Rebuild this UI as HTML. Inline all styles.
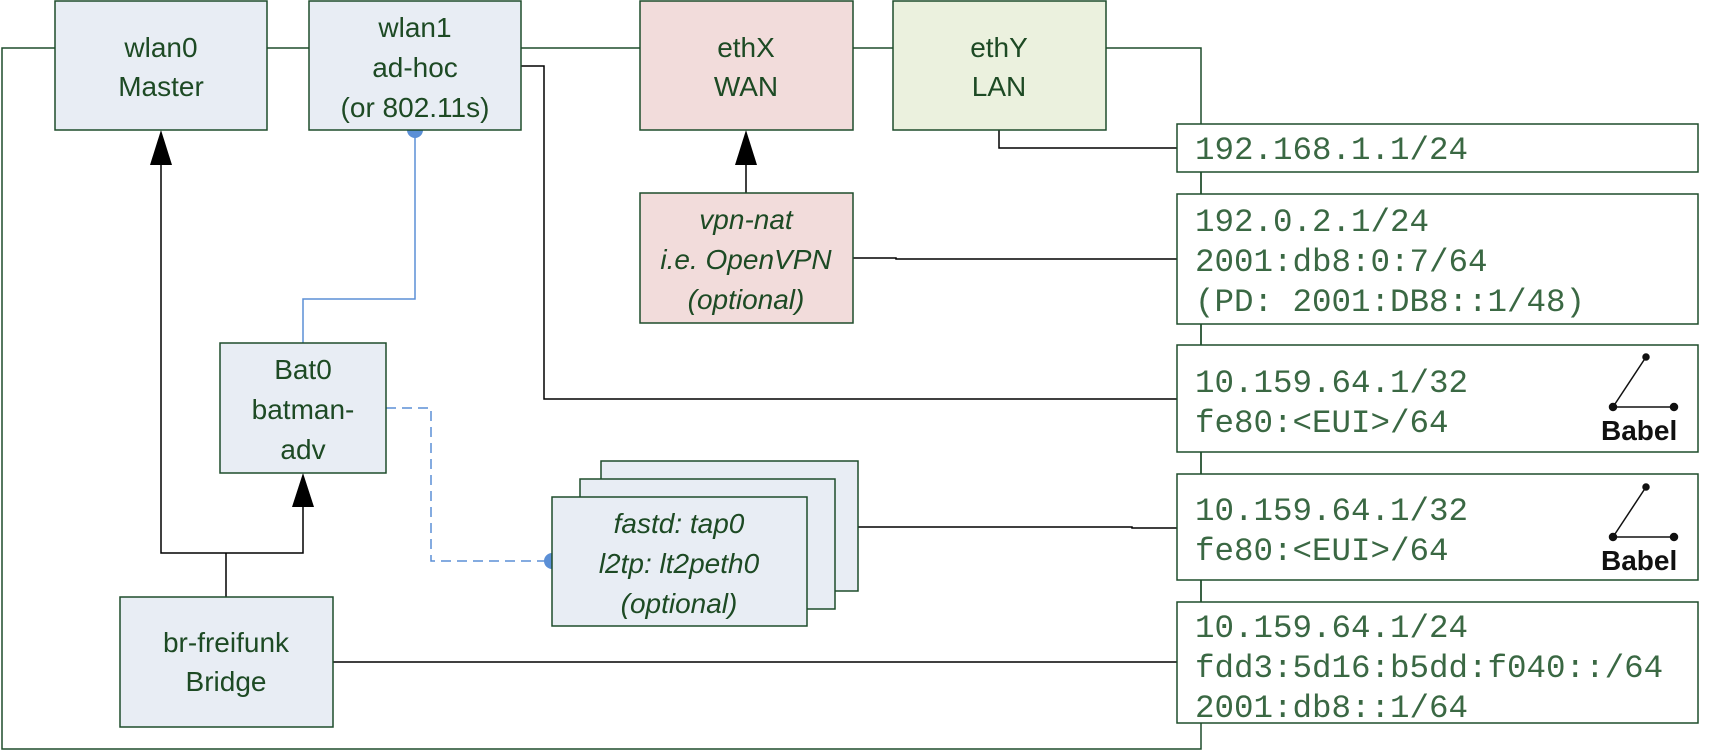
<!DOCTYPE html>
<html><head><meta charset="utf-8"><style>
html,body{margin:0;padding:0;background:#fff;}
svg{display:block;}
.n{font-family:"Liberation Sans",sans-serif;font-size:28px;fill:#1d4a24;text-anchor:middle;}
.i{font-style:italic;}
.m{font-family:"Liberation Mono",monospace;font-size:32.5px;fill:#3a6843;}
.b{font-family:"Liberation Sans",sans-serif;font-weight:bold;font-size:28px;fill:#111;}
</style></head><body>
<svg width="1710" height="751" viewBox="0 0 1710 751" xmlns="http://www.w3.org/2000/svg">
<g fill="none" stroke="#1e4d2b" stroke-width="1.5">
<polyline points="55,48 2,48 2,749 1201,749 1201,48 1106,48"/>
<line x1="267" y1="48" x2="309" y2="48"/>
<line x1="521" y1="48" x2="640" y2="48"/>
<line x1="853" y1="48" x2="893" y2="48"/>
<line x1="1201" y1="172" x2="1201" y2="194"/>
<line x1="1201" y1="324" x2="1201" y2="345"/>
<line x1="1201" y1="452" x2="1201" y2="474"/>
<line x1="1201" y1="580" x2="1201" y2="602"/>
</g>
<g fill="none" stroke="#000" stroke-width="1.5">
<polyline points="521,66 544,66 544,399 1177,399"/>
<polyline points="999,130 999,148 1177,148"/>
<polyline points="853,258 896,258 896,259 1177,259"/>
<polyline points="858,527 1132,527 1132,528 1177,528"/>
<line x1="333" y1="662" x2="1177" y2="662"/>
<polyline points="161,160 161,553 303,553 303,500"/>
<line x1="226" y1="553" x2="226" y2="597"/>
<line x1="746" y1="160" x2="746" y2="193"/>
</g>
<g fill="#000">
<polygon points="161,130 150,165 172,165"/>
<polygon points="303,473 292,507 314,507"/>
<polygon points="746,130 735,165 757,165"/>
</g>
<g fill="none" stroke="#5b8fd6" stroke-width="1.5">
<polyline points="415,130 415,299 303,299 303,343"/>
<polyline points="386,408 431,408 431,561 552,561" stroke-dasharray="10,6"/>
</g>
<circle cx="415" cy="130" r="8" fill="#5b8fd6"/>
<circle cx="552" cy="561" r="8" fill="#5b8fd6"/>
<g stroke="#1e4d2b" stroke-width="1.5">
<rect x="55" y="1" width="212" height="129" fill="#e8edf4"/>
<rect x="309" y="1" width="212" height="129" fill="#e8edf4"/>
<rect x="640" y="1" width="213" height="129" fill="#f2dcdb"/>
<rect x="893" y="1" width="213" height="129" fill="#ebf1de"/>
<rect x="640" y="193" width="213" height="130" fill="#f2dcdb"/>
<rect x="220" y="343" width="166" height="130" fill="#e8edf4"/>
<rect x="120" y="597" width="213" height="130" fill="#e8edf4"/>
<rect x="601" y="461" width="257" height="130" fill="#e8edf4"/>
<rect x="580" y="479" width="255" height="130" fill="#e8edf4"/>
<rect x="552" y="497" width="255" height="129" fill="#e8edf4"/>
<rect x="1177" y="124" width="521" height="48" fill="#fff"/>
<rect x="1177" y="194" width="521" height="130" fill="#fff"/>
<rect x="1177" y="345" width="521" height="107" fill="#fff"/>
<rect x="1177" y="474" width="521" height="106" fill="#fff"/>
<rect x="1177" y="602" width="521" height="121" fill="#fff"/>
</g>
<g class="n">
<text x="161" y="57">wlan0</text><text x="161" y="96">Master</text>
<text x="415" y="37">wlan1</text><text x="415" y="77">ad-hoc</text><text x="415" y="117">(or 802.11s)</text>
<text x="746" y="57">ethX</text><text x="746" y="96">WAN</text>
<text x="999" y="57">ethY</text><text x="999" y="96">LAN</text>
<g class="i"><text x="746" y="229">vpn-nat</text><text x="746" y="269">i.e. OpenVPN</text><text x="746" y="309">(optional)</text></g>
<text x="303" y="379">Bat0</text><text x="303" y="419">batman-</text><text x="303" y="459">adv</text>
<text x="226" y="652">br-freifunk</text><text x="226" y="691">Bridge</text>
<g class="i"><text x="679" y="533">fastd: tap0</text><text x="679" y="573">l2tp: lt2peth0</text><text x="679" y="613">(optional)</text></g>
</g>
<g class="m">
<text x="1195" y="159">192.168.1.1/24</text>
<text x="1195" y="231">192.0.2.1/24</text>
<text x="1195" y="271">2001:db8:0:7/64</text>
<text x="1195" y="311">(PD: 2001:DB8::1/48)</text>
<text x="1195" y="392">10.159.64.1/32</text>
<text x="1195" y="432">fe80:&lt;EUI&gt;/64</text>
<text x="1195" y="520">10.159.64.1/32</text>
<text x="1195" y="560">fe80:&lt;EUI&gt;/64</text>
<text x="1195" y="637">10.159.64.1/24</text>
<text x="1195" y="677">fdd3:5d16:b5dd:f040::/64</text>
<text x="1195" y="717">2001:db8::1/64</text>
</g>
<g stroke="#111" stroke-width="1.5" fill="#111">
<line x1="1646" y1="357" x2="1613" y2="407"/><line x1="1613" y1="407" x2="1674" y2="407"/>
<circle cx="1646" cy="357" r="3"/><circle cx="1613" cy="407" r="3.5"/><circle cx="1674" cy="407" r="3.5"/>
<line x1="1646" y1="487" x2="1613" y2="537"/><line x1="1613" y1="537" x2="1674" y2="537"/>
<circle cx="1646" cy="487" r="3"/><circle cx="1613" cy="537" r="3.5"/><circle cx="1674" cy="537" r="3.5"/>
</g>
<text class="b" x="1601" y="440">Babel</text>
<text class="b" x="1601" y="570">Babel</text>
</svg>
</body></html>
